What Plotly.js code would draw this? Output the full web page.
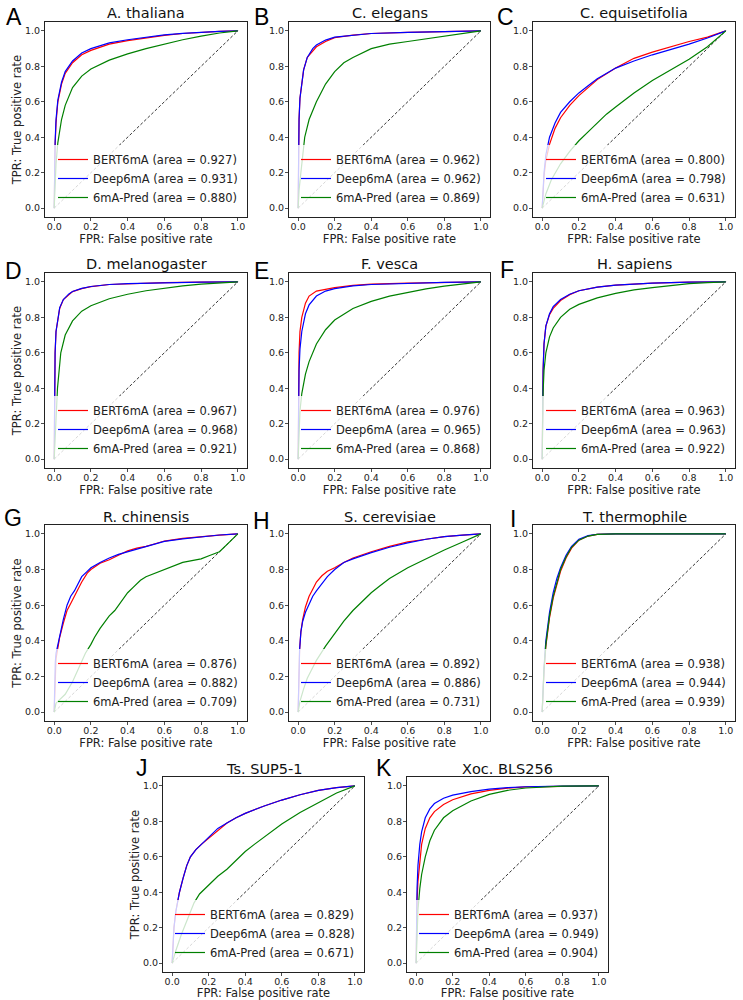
<!DOCTYPE html>
<html><head><meta charset="utf-8">
<script src="https://cdn.plot.ly/plotly-3.0.1.min.js"></script>
<style>html,body{margin:0;padding:0;background:#fff}#chart{width:743px;height:1000px}</style>
</head><body><div id="chart"></div>
<script>
// ---------- labels ----------
const panelLetters = ['A','B','C','D','E','F','G','H','I','J','K'];
const species = ['A. thaliana','C. elegans','C. equisetifolia','D. melanogaster','F. vesca','H. sapiens','R. chinensis','S. cerevisiae','T. thermophile','Ts. SUP5-1','Xoc. BLS256'];
const modelNames = ['BERT6mA','Deep6mA','6mA-Pred'];
const aucBERT6mA = [0.927,0.962,0.800,0.967,0.976,0.963,0.876,0.892,0.938,0.829,0.937];
const aucDeep6mA = [0.931,0.962,0.798,0.968,0.965,0.963,0.882,0.886,0.944,0.828,0.949];
const aucPred    = [0.880,0.869,0.631,0.921,0.868,0.922,0.709,0.731,0.939,0.671,0.904];
const tickVals = [0,0.2,0.4,0.6,0.8,1.0];
const tickText = ['0.0','0.2','0.4','0.6','0.8','1.0'];
const xTitle = 'FPR: False positive rate';
const yTitle = 'TPR: True positive rate';
const chanceX = [0,1];
const chanceY = [0,1];

// ---------- ROC curves ----------
// A. thaliana
const aBertF = [0,0.002,0.005,0.01,0.02,0.04,0.06,0.1,0.15,0.2,0.3,0.4,0.5,0.6,0.7,0.8,0.9,1];
const aBertT = [0,0.2,0.35,0.48,0.6,0.7,0.76,0.82,0.865,0.89,0.925,0.945,0.962,0.975,0.985,0.992,0.997,1];
const aDeepF = [0,0.002,0.005,0.01,0.02,0.04,0.06,0.1,0.15,0.2,0.3,0.4,0.5,0.6,0.7,0.8,0.9,1];
const aDeepT = [0,0.22,0.37,0.5,0.61,0.71,0.77,0.83,0.875,0.9,0.932,0.95,0.965,0.977,0.986,0.993,0.997,1];
const aPredF = [0,0.005,0.01,0.02,0.04,0.06,0.1,0.15,0.2,0.3,0.4,0.5,0.6,0.7,0.8,0.9,1];
const aPredT = [0,0.15,0.25,0.37,0.5,0.58,0.68,0.745,0.785,0.835,0.87,0.9,0.925,0.95,0.97,0.988,1];
// C. elegans
const bBertF = [0,0.002,0.005,0.01,0.02,0.03,0.05,0.08,0.1,0.15,0.2,0.3,0.4,0.6,0.8,1];
const bBertT = [0,0.3,0.5,0.62,0.72,0.78,0.85,0.89,0.91,0.94,0.962,0.976,0.985,0.992,0.997,1];
const bDeepF = [0,0.002,0.005,0.01,0.02,0.03,0.05,0.08,0.1,0.15,0.2,0.3,0.4,0.6,0.8,1];
const bDeepT = [0,0.3,0.5,0.62,0.72,0.78,0.85,0.9,0.92,0.948,0.965,0.977,0.985,0.992,0.997,1];
const bPredF = [0,0.005,0.015,0.025,0.036,0.06,0.1,0.15,0.2,0.25,0.3,0.4,0.5,0.6,0.7,0.8,0.9,1];
const bPredT = [0,0.1,0.2,0.3,0.4,0.5,0.6,0.7,0.77,0.82,0.85,0.9,0.925,0.94,0.955,0.97,0.985,1];
// C. equisetifolia
const cBertF = [0,0.005,0.01,0.02,0.04,0.07,0.1,0.15,0.2,0.25,0.3,0.4,0.5,0.6,0.7,0.8,0.9,1];
const cBertT = [0,0.1,0.18,0.27,0.36,0.45,0.51,0.58,0.635,0.68,0.725,0.79,0.845,0.88,0.91,0.94,0.965,1];
const cDeepF = [0,0.005,0.01,0.02,0.04,0.07,0.1,0.15,0.2,0.25,0.3,0.4,0.5,0.6,0.7,0.8,0.9,1];
const cDeepT = [0,0.12,0.2,0.3,0.4,0.48,0.54,0.6,0.65,0.69,0.73,0.79,0.83,0.865,0.895,0.925,0.96,1];
const cPredF = [0,0.02,0.05,0.1,0.15,0.2,0.25,0.3,0.35,0.4,0.5,0.6,0.7,0.8,0.9,1];
const cPredT = [0,0.08,0.16,0.25,0.32,0.38,0.43,0.48,0.53,0.57,0.65,0.72,0.78,0.84,0.91,1];
// D. melanogaster
const dBertF = [0,0.002,0.005,0.01,0.02,0.03,0.05,0.08,0.1,0.15,0.2,0.3,0.4,0.6,0.8,1];
const dBertT = [0,0.4,0.6,0.72,0.8,0.85,0.9,0.93,0.945,0.962,0.973,0.985,0.99,0.996,0.998,1];
const dDeepF = [0,0.002,0.005,0.01,0.02,0.03,0.05,0.08,0.1,0.15,0.2,0.3,0.4,0.6,0.8,1];
const dDeepT = [0,0.4,0.6,0.72,0.8,0.855,0.9,0.932,0.946,0.963,0.974,0.985,0.99,0.996,0.998,1];
const dPredF = [0,0.003,0.009,0.018,0.036,0.06,0.1,0.15,0.2,0.3,0.4,0.5,0.6,0.7,0.8,0.9,1];
const dPredT = [0,0.1,0.2,0.4,0.6,0.7,0.78,0.835,0.865,0.905,0.93,0.95,0.965,0.977,0.987,0.995,1];
// F. vesca
const eBertF = [0,0.002,0.005,0.01,0.02,0.04,0.06,0.1,0.15,0.2,0.3,0.4,0.6,0.8,1];
const eBertT = [0,0.4,0.6,0.72,0.8,0.88,0.92,0.948,0.958,0.968,0.98,0.987,0.993,0.997,1];
const eDeepF = [0,0.002,0.005,0.01,0.02,0.04,0.06,0.1,0.15,0.2,0.3,0.4,0.6,0.8,1];
const eDeepT = [0,0.3,0.5,0.62,0.72,0.82,0.87,0.92,0.948,0.962,0.977,0.985,0.992,0.997,1];
const ePredF = [0,0.003,0.01,0.02,0.04,0.06,0.1,0.15,0.2,0.3,0.4,0.5,0.6,0.7,0.8,0.9,1];
const ePredT = [0,0.12,0.27,0.37,0.48,0.55,0.65,0.73,0.785,0.85,0.89,0.92,0.942,0.96,0.976,0.99,1];
// H. sapiens
const fBertF = [0,0.002,0.005,0.01,0.02,0.04,0.06,0.1,0.15,0.2,0.3,0.4,0.6,0.8,1];
const fBertT = [0,0.3,0.5,0.65,0.75,0.815,0.85,0.895,0.928,0.95,0.97,0.982,0.993,0.998,1];
const fDeepF = [0,0.002,0.005,0.01,0.02,0.04,0.06,0.1,0.15,0.2,0.3,0.4,0.6,0.8,1];
const fDeepT = [0,0.3,0.5,0.65,0.75,0.82,0.86,0.9,0.93,0.95,0.97,0.982,0.993,0.998,1];
const fPredF = [0,0.002,0.005,0.01,0.02,0.04,0.06,0.1,0.15,0.2,0.3,0.4,0.5,0.6,0.7,0.8,0.9,1];
const fPredT = [0,0.2,0.38,0.5,0.6,0.69,0.74,0.8,0.845,0.873,0.91,0.935,0.955,0.968,0.98,0.99,0.996,1];
// R. chinensis
const gBertF = [0,0.003,0.006,0.01,0.02,0.03,0.05,0.07,0.09,0.11,0.13,0.15,0.18,0.2,0.25,0.3,0.35,0.4,0.45,0.5,0.55,0.6,0.7,0.8,0.9,1];
const gBertT = [0,0.15,0.22,0.3,0.36,0.42,0.5,0.57,0.61,0.65,0.69,0.73,0.78,0.8,0.835,0.855,0.88,0.905,0.92,0.93,0.945,0.96,0.975,0.985,0.993,1];
const gDeepF = [0,0.003,0.006,0.01,0.02,0.03,0.05,0.07,0.09,0.11,0.13,0.15,0.18,0.2,0.25,0.3,0.35,0.4,0.45,0.5,0.55,0.6,0.7,0.8,0.9,1];
const gDeepT = [0,0.18,0.28,0.33,0.38,0.44,0.52,0.6,0.65,0.68,0.72,0.76,0.79,0.81,0.84,0.865,0.885,0.9,0.915,0.93,0.945,0.958,0.972,0.985,0.994,1];
const gPredF = [0,0.01,0.03,0.06,0.1,0.14,0.17,0.2,0.22,0.25,0.28,0.3,0.33,0.36,0.4,0.43,0.47,0.5,0.55,0.6,0.65,0.7,0.75,0.8,0.85,0.9,0.95,1];
const gPredT = [0,0.05,0.07,0.1,0.17,0.26,0.33,0.38,0.42,0.47,0.51,0.54,0.57,0.61,0.67,0.7,0.74,0.76,0.78,0.8,0.82,0.84,0.85,0.86,0.88,0.9,0.95,1];
// S. cerevisiae
const hBertF = [0,0.003,0.008,0.015,0.025,0.04,0.06,0.08,0.1,0.13,0.16,0.2,0.25,0.3,0.4,0.5,0.6,0.7,0.8,0.9,1];
const hBertT = [0,0.2,0.35,0.45,0.52,0.59,0.65,0.69,0.73,0.765,0.79,0.81,0.84,0.865,0.9,0.93,0.955,0.97,0.985,0.993,1];
const hDeepF = [0,0.003,0.008,0.015,0.025,0.04,0.06,0.08,0.1,0.13,0.16,0.2,0.25,0.3,0.4,0.5,0.6,0.7,0.8,0.9,1];
const hDeepT = [0,0.2,0.35,0.45,0.51,0.56,0.61,0.65,0.68,0.72,0.76,0.8,0.84,0.86,0.895,0.925,0.95,0.97,0.985,0.993,1];
const hPredF = [0,0.01,0.03,0.05,0.08,0.1,0.15,0.2,0.25,0.3,0.35,0.4,0.45,0.5,0.6,0.7,0.8,0.9,1];
const hPredT = [0,0.06,0.13,0.19,0.25,0.29,0.37,0.44,0.51,0.57,0.62,0.67,0.71,0.75,0.81,0.86,0.91,0.955,1];
// T. thermophile
const iBertF = [0,0.005,0.01,0.02,0.04,0.06,0.08,0.1,0.13,0.16,0.2,0.25,0.3,0.4,1];
const iBertT = [0,0.14,0.23,0.37,0.53,0.64,0.72,0.79,0.865,0.92,0.965,0.988,0.997,1,1];
const iDeepF = [0,0.005,0.01,0.02,0.04,0.06,0.08,0.1,0.13,0.16,0.2,0.25,0.3,0.4,1];
const iDeepT = [0,0.15,0.25,0.4,0.56,0.67,0.75,0.81,0.88,0.93,0.97,0.99,0.998,1,1];
const iPredF = [0,0.005,0.01,0.02,0.04,0.06,0.08,0.1,0.13,0.16,0.2,0.25,0.3,0.4,1];
const iPredT = [0,0.14,0.24,0.38,0.54,0.65,0.73,0.8,0.87,0.925,0.965,0.988,0.997,1,1];
// Ts. SUP5-1
const jBertF = [0,0.005,0.01,0.02,0.04,0.06,0.08,0.1,0.13,0.16,0.2,0.25,0.3,0.35,0.4,0.5,0.6,0.7,0.8,0.9,1];
const jBertT = [0,0.12,0.2,0.29,0.4,0.48,0.55,0.6,0.64,0.67,0.705,0.75,0.79,0.82,0.845,0.885,0.92,0.95,0.975,0.99,1];
const jDeepF = [0,0.005,0.01,0.02,0.04,0.06,0.08,0.1,0.13,0.16,0.2,0.25,0.3,0.35,0.4,0.5,0.6,0.7,0.8,0.9,1];
const jDeepT = [0,0.12,0.2,0.29,0.4,0.48,0.55,0.6,0.64,0.67,0.71,0.76,0.79,0.82,0.845,0.885,0.92,0.95,0.975,0.99,1];
const jPredF = [0,0.02,0.05,0.08,0.1,0.12,0.15,0.2,0.25,0.3,0.35,0.4,0.45,0.5,0.55,0.6,0.7,0.8,0.9,1];
const jPredT = [0,0.07,0.16,0.24,0.29,0.34,0.39,0.44,0.49,0.53,0.58,0.63,0.67,0.71,0.75,0.785,0.85,0.905,0.96,1];
// Xoc. BLS256
const kBertF = [0,0.002,0.005,0.01,0.02,0.03,0.05,0.075,0.1,0.15,0.2,0.3,0.4,0.5,0.6,0.8,1];
const kBertT = [0,0.2,0.35,0.46,0.59,0.67,0.76,0.82,0.855,0.895,0.922,0.955,0.975,0.987,0.994,0.999,1];
const kDeepF = [0,0.002,0.005,0.01,0.02,0.03,0.05,0.075,0.1,0.15,0.2,0.3,0.4,0.5,0.6,0.8,1];
const kDeepT = [0,0.25,0.42,0.55,0.67,0.74,0.82,0.87,0.9,0.93,0.948,0.968,0.982,0.99,0.995,0.999,1];
const kPredF = [0,0.002,0.005,0.01,0.02,0.03,0.05,0.075,0.1,0.15,0.2,0.3,0.4,0.5,0.6,0.8,1];
const kPredT = [0,0.1,0.2,0.3,0.42,0.5,0.6,0.69,0.75,0.82,0.86,0.915,0.952,0.975,0.988,0.998,1];

const panelCurves = [
  [[aBertF,aBertT],[aDeepF,aDeepT],[aPredF,aPredT]],
  [[bBertF,bBertT],[bDeepF,bDeepT],[bPredF,bPredT]],
  [[cBertF,cBertT],[cDeepF,cDeepT],[cPredF,cPredT]],
  [[dBertF,dBertT],[dDeepF,dDeepT],[dPredF,dPredT]],
  [[eBertF,eBertT],[eDeepF,eDeepT],[ePredF,ePredT]],
  [[fBertF,fBertT],[fDeepF,fDeepT],[fPredF,fPredT]],
  [[gBertF,gBertT],[gDeepF,gDeepT],[gPredF,gPredT]],
  [[hBertF,hBertT],[hDeepF,hDeepT],[hPredF,hPredT]],
  [[iBertF,iBertT],[iDeepF,iDeepT],[iPredF,iPredT]],
  [[jBertF,jBertT],[jDeepF,jDeepT],[jPredF,jPredT]],
  [[kBertF,kBertT],[kDeepF,kDeepT],[kPredF,kPredT]]
];
const aucs = [aucBERT6mA, aucDeep6mA, aucPred];

// ---------- layout geometry (pixels) ----------
const W = 743, H = 1000;
// [left, right, top, bottom] of each plot frame
const boxes = [
  [45,247,22,217],[289,490,22,217],[533,735,22,217],
  [45,247,273,468],[289,490,273,468],[533,735,273,468],
  [45,247,525,721],[289,490,525,721],[533,735,525,721],
  [163,364,777,972],[407,608,777,972]
];
const showYTitle = [true,false,false,true,false,false,true,false,false,true,false];
const titleY = [13,13,13,264,264,264,517,517,517,769,769];
const letterPos = [[24,17],[271,17],[516,17],[24,271],[271,271],[516,270],[24,518],[272,521],[518,519],[150,768],[394,768]];
const lineColors = ['#ff0000','#0000ff','#008000'];

const FONT = 'DejaVu Sans, Verdana, sans-serif';
const traces = [];
const layout = {
  width: W, height: H,
  margin: {l:0, r:0, t:0, b:0},
  paper_bgcolor: '#fff', plot_bgcolor: '#fff',
  showlegend: true,
  annotations: [],
  font: {family: FONT, color: '#000'}
};

boxes.forEach((b, i) => {
  const n = i + 1;
  const xa = 'x' + (n === 1 ? '' : n), ya = 'y' + (n === 1 ? '' : n);
  const legName = 'legend' + (n === 1 ? '' : n);
  const axBase = {
    range: [-0.05, 1.05], showgrid: false, zeroline: false,
    showline: true, mirror: true, linecolor: '#222', linewidth: 1,
    ticks: 'outside', ticklen: 3, tickwidth: 0.8, tickcolor: '#222',
    tickvals: tickVals, ticktext: tickText,
    tickfont: {family: FONT, size: 9.5, color: '#222'},
    fixedrange: true
  };
  layout['xaxis' + (n === 1 ? '' : n)] = Object.assign({}, axBase, {
    domain: [b[0]/W, b[1]/W], anchor: ya, ticklabelstandoff: -2,
    title: {text: xTitle, font: {family: FONT, size: 11.5, color: '#222'}, standoff: 0}
  });
  layout['yaxis' + (n === 1 ? '' : n)] = Object.assign({}, axBase, {
    domain: [1 - b[3]/H, 1 - b[2]/H], anchor: xa, ticklabelstandoff: -1,
    title: showYTitle[i] ? {text: yTitle, font: {family: FONT, size: 11.5, color: '#222'}, standoff: 0} : {text: ''}
  });
  // chance diagonal
  traces.push({x: chanceX, y: chanceY, xaxis: xa, yaxis: ya, mode: 'lines',
    line: {color: '#000', width: 0.8, dash: '3px,2px'}, showlegend: false, hoverinfo: 'skip'});
  panelCurves[i].forEach((c, m) => {
    traces.push({x: c[0], y: c[1], xaxis: xa, yaxis: ya, mode: 'lines',
      name: modelNames[m] + ' (area = ' + aucs[m][i].toFixed(3) + ')',
      line: {color: lineColors[m], width: 1.2}, legend: legName});
  });
  layout[legName] = {
    x: (b[1] - 4)/W, y: 1 - (b[3] - 5)/H, xanchor: 'right', yanchor: 'bottom',
    bgcolor: 'rgba(255,255,255,0.8)', borderwidth: 0,
    font: {family: FONT, size: 11.5, color: '#222'},
    itemwidth: 30, traceorder: 'normal', tracegroupgap: 0
  };
  layout.annotations.push({
    text: species[i], xref: 'paper', yref: 'paper',
    x: (b[0] + b[1]) / 2 / W, y: 1 - titleY[i]/H, xanchor: 'center', yanchor: 'middle',
    showarrow: false, font: {family: FONT, size: 14.5, color: '#111'}
  });
  layout.annotations.push({
    text: panelLetters[i], xref: 'paper', yref: 'paper',
    x: letterPos[i][0]/W, y: 1 - letterPos[i][1]/H, xanchor: 'right', yanchor: 'middle',
    showarrow: false, font: {family: 'Liberation Sans, Arial, sans-serif', size: 23, color: '#000'}
  });
});

Plotly.newPlot('chart', traces, layout, {displayModeBar: false, staticPlot: true});
</script>
</body></html>
